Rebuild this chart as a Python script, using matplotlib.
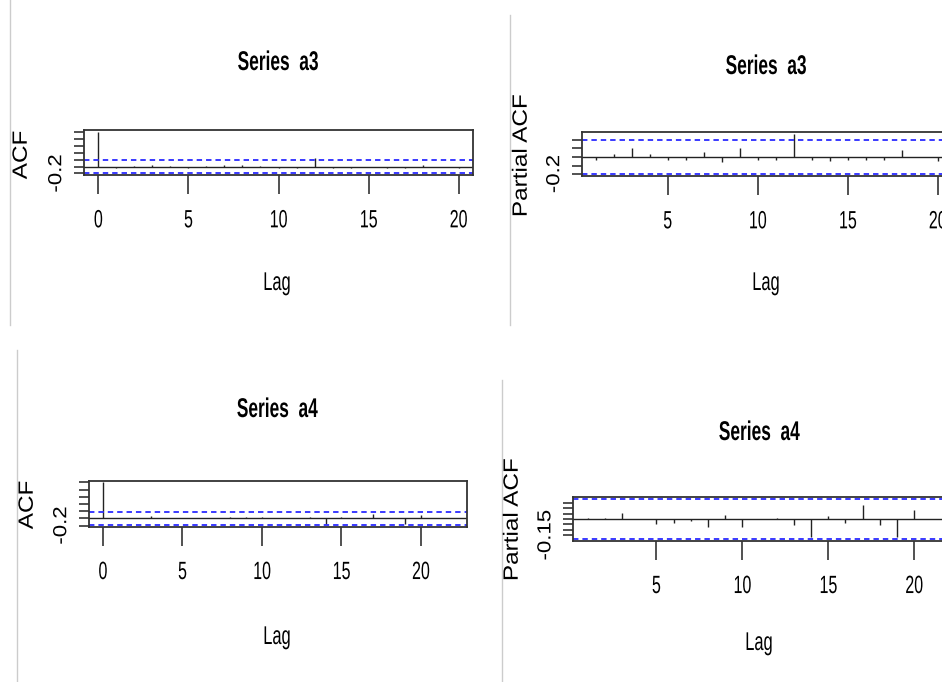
import matplotlib
matplotlib.use('Agg')
import matplotlib.pyplot as plt
from matplotlib.lines import Line2D
from matplotlib.patheffects import AbstractPathEffect
from matplotlib.transforms import Affine2D

W, H = 942, 682

# ---------------- data ----------------
acf_a3_lags = list(range(0, 21))
acf_a3 = [1.0, -0.03, 0.01, 0.05, 0.01, -0.03, 0.01, 0.03, 0.03, 0.02, -0.05,
          -0.03, 0.23, -0.04, -0.04, 0.0, -0.03, -0.03, 0.03, 0.0, -0.05]
acf_a3_ci = 0.196

pacf_a3_lags = list(range(1, 21))
pacf_a3 = [-0.03, 0.035, 0.105, 0.03, -0.04, -0.03, 0.055, -0.06, 0.10, -0.04,
           -0.03, 0.27, -0.04, -0.05, -0.04, -0.03, -0.04, 0.08, 0.0, -0.05]
pacf_a3_ci = 0.204

acf_a4_lags = list(range(0, 23))
acf_a4 = [1.0, 0.01, 0.01, 0.07, 0.01, 0.02, 0.0, 0.01, 0.04, 0.04, 0.03, 0.0,
          0.01, 0.03, -0.16, 0.03, 0.0, 0.13, 0.0, -0.16, 0.09, 0.0, 0.0]
acf_a4_ci = 0.185

pacf_a4_lags = list(range(1, 23))
pacf_a4 = [0.01, 0.01, 0.06, 0.0, -0.045, -0.036, -0.02, -0.075, 0.036, -0.075,
           0.0, 0.005, -0.06, -0.165, 0.03, -0.036, 0.13, -0.06, -0.165, 0.085,
           0.0, 0.0]
pacf_a4_ci = 0.187

x_ticks = [0, 5, 10, 15, 20]
acf_yticks = [-0.2, 0.0, 0.2, 0.4, 0.6, 0.8, 1.0]
pacf_a3_yticks = [-0.2, -0.1, 0.0, 0.1, 0.2]
pacf_a4_yticks = [-0.15, -0.10, -0.05, 0.0, 0.05, 0.10, 0.15]

FONT = ['Liberation Sans', 'DejaVu Sans']


class Squeeze(AbstractPathEffect):
    """Scale glyph outlines about their own centre (narrow lettering)."""

    def __init__(self, sx=1.0, sy=1.0):
        super().__init__()
        self.sx, self.sy = sx, sy

    def draw_path(self, renderer, gc, tpath, affine, rgbFace=None):
        e = tpath.get_extents()
        cx, cy = (e.x0 + e.x1) / 2, (e.y0 + e.y1) / 2
        t = (Affine2D().translate(-cx, -cy).scale(self.sx, self.sy)
             .translate(cx, cy) + affine)
        renderer.draw_path(gc, tpath, t, rgbFace)


HSQ = [Squeeze(0.64, 1.0)]
VSQ = [Squeeze(1.0, 0.85)]

fig = plt.figure(figsize=(W / 100, H / 100), dpi=100)
fig.patch.set_facecolor('white')


def fx(x):
    return x / W


def fy(y):
    return 1 - y / H


def panel(box, lags, vals, ci, yticks, ylabel, title,
          title_xy, lag_xy, ylabel_xy, ytl_size):
    x0, y0, x1, y1 = box
    ax = fig.add_axes([fx(x0), fy(y1), (x1 - x0) / W, (y1 - y0) / H])
    ax.vlines(lags, 0, vals, colors='#222222', linewidth=1.0)
    ax.axhline(0, color='#222222', linewidth=1.0)
    for c in (ci, -ci):
        ax.axhline(c, color='#2a2aff', linewidth=1.3, linestyle=(0, (3.0, 2.2)))
    for s in ax.spines.values():
        s.set_color('#333333')
        s.set_linewidth(1.3)
    ax.set_xticks(x_ticks)
    ax.set_xticklabels([str(t) for t in x_ticks], family=FONT, fontsize=18)
    ax.set_yticks(yticks)
    ax.set_yticklabels(['%g' % yticks[0]] + [''] * (len(yticks) - 1),
                       family=FONT, fontsize=ytl_size, rotation=90, va='center')
    lo = min(-ci, min(vals))
    hi = max(ci, max(vals))
    r = hi - lo
    ax.set_ylim(lo - 0.04 * r, hi + 0.04 * r)
    lr = max(lags) - min(lags)
    ax.set_xlim(min(lags) - 0.04 * lr, max(lags) + 0.04 * lr)
    ax.tick_params(axis='x', length=14, width=1.2, color='#333333', pad=10)
    ax.tick_params(axis='y', length=7, width=1.2, color='#333333', pad=5)
    for lbl in ax.get_xticklabels():
        lbl.set_path_effects(HSQ)
    for lbl in ax.get_yticklabels():
        lbl.set_path_effects(VSQ)
    fig.text(fx(title_xy[0]), fy(title_xy[1]), title, family=FONT,
             fontweight='bold', fontsize=19.5, ha='center', va='center',
             path_effects=HSQ)
    fig.text(fx(lag_xy[0]), fy(lag_xy[1]), 'Lag', family=FONT, fontsize=18.5,
             ha='center', va='center', path_effects=HSQ)
    fig.text(fx(ylabel_xy[0]), fy(ylabel_xy[1]), ylabel, family=FONT, fontsize=17.5,
             rotation=90, ha='center', va='center', path_effects=VSQ)
    return ax


# frame lines of the four screenshot tiles
for (x, ya, yb) in [(10, 0, 325), (510, 15, 325), (17, 350, 682), (502, 380, 682)]:
    fig.add_artist(Line2D([fx(x), fx(x)], [fy(ya), fy(yb)], color='#cccccc', linewidth=1.0))

panel((84, 130, 473, 175), acf_a3_lags, acf_a3, acf_a3_ci, acf_yticks, 'ACF',
      'Series  a3', (278, 63), (277, 283), (22, 155), 16)
panel((582, 132.3, 951.4, 176), pacf_a3_lags, pacf_a3, pacf_a3_ci, pacf_a3_yticks,
      'Partial ACF', 'Series  a3', (766, 67), (766, 283), (522, 156), 16)
panel((89, 480.7, 466.7, 526.7), acf_a4_lags, acf_a4, acf_a4_ci, acf_yticks, 'ACF',
      'Series  a4', (277, 410), (277, 637), (28, 505), 16)
panel((573.2, 497.3, 963, 540.7), pacf_a4_lags, pacf_a4, pacf_a4_ci, pacf_a4_yticks,
      'Partial ACF', 'Series  a4', (759, 433), (759, 643), (513, 520), 16)

fig.savefig('out.png', dpi=100, facecolor='white')
